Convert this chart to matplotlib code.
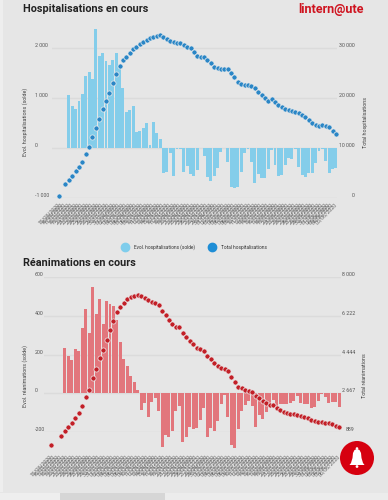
#!/usr/bin/env python

import matplotlib
matplotlib.use("Agg")
import matplotlib.pyplot as plt
from matplotlib.patches import Circle, Polygon, Rectangle
from matplotlib.transforms import ScaledTranslation
import numpy as np
import pandas as pd

plt.rcParams['font.family'] = ['Roboto', 'DejaVu Sans']

nan = float('nan')

# top chart
hosp_solde = [1053, 840, 773, 947, 1073, 1440, 1513, 1373, 2373, 1840, 1907, 1747, 1660, 1760, 1893, 1627,
              1193, 727, 760, 840, 313, 347, 393, 507, 60, 513, 293, 173, -507, -473, -107, -560, -10, -10,
              -473, -360, -520, -560, -440, -5, -160, -573, -660, -560, -407, -73, 0, -273, -773, -793, -773,
              -487, -107, -27, -280, -693, -520, -607, -607, -420, -40, -340, -553, -540, -340, -207, -220,
              -10, -373, -540, -587, -493, -507, -307, -53, -27, -253, -507, -413, -407]
hosp_total = [400, nan, 2740, 3600, 4460, 5340, 6200, 7200, 8800, 10260, 12200, 14060, 15800, 17740, 19400,
              21060, 22940, 24740, 26400, 27600, 28260, 29060, 29740, 30260, 30740, 31140, 31600, 31940,
              32140, 32400, 32600, 32140, 31740, 31460, 31260, 31060, 30940, 30600, 30260, 29940, 29260,
              28400, 28140, 28260, 27600, 26940, 26260, 25940, 25800, 25740, 25800, 25060, 24140, 23260,
              22800, 22600, 22600, 22460, 21940, 21260, 20600, 19940, 19460, 19740, 19260, 18600, 18140,
              17740, 17600, 17400, 17260, 16940, 16600, 16140, 15600, 15060, 14600, 14400, 14540, 14400,
              14140, 13460, 12800]

# bottom chart
rea_solde = [231, 190, 174, 228, 219, 336, 436, 310, 548, 410, 486, 357, 476, 460, 452, 379, 264, 176, 141,
             91, 60, 17, -86, -52, -121, -43, -26, -90, -276, -216, -224, -193, -90, -64, -253, -224, -172,
             -186, -180, -138, -74, -224, -181, -193, -141, -55, -9, -124, -267, -284, -184, -90, -60, -38,
             -64, -172, -112, -134, -95, -60, -34, -69, -55, -55, -55, -48, -38, -14, -52, -57, -57, -74,
             -69, -38, -3, -17, -52, -47, -47, -72]
rea_total = [306, nan, nan, 692, 935, 1132, 1316, 1531, 1761, 2082, 2509, 2816, 3367, 3779, 4270, 4637, 5096,
             5569, 5995, 6408, 6638, 6821, 6977, 7069, 7129, 7175, 7106, 7037, 6945, 6867, 6808, 6730, 6454,
             6257, 6028, 5844, 5720, 5693, 5445, 5234, 5078, 4913, 4729, 4683, 4605, 4390, 4224, 4032, 3917,
             3848, 3779, 3688, 3426, 3160, 2967, 2894, 2830, 2784, 2710, 2554, 2435, 2325, 2206, 2128, 2105,
             2004, 1898, 1820, 1761, 1729, 1701, 1669, 1609, 1563, 1518, 1453, 1380, 1334, 1334, 1316, 1288,
             1242, 1178, 1105]

hosp_left_ticks = [-1000, 0, 1000, 2000]
hosp_left_labels = ['-1 000', '0', '1 000', '2 000']
hosp_right_ticks = [0, 10000, 20000, 30000]
hosp_right_labels = ['0', '10 000', '20 000', '30 000']
rea_left_ticks = [-200, 0, 200, 400, 600]
rea_left_labels = ['-200', '0', '200', '400', '600']
rea_right_ticks = [889, 2667, 4444, 6222, 8000]
rea_right_labels = ['889', '2 667', '4 444', '6 222', '8 000']

W, H = 388, 500
BG = '#e6e6e6'
GRID = '#dbdbdb'
TICK = '#555555'


def make_axes(fig, left, right, top, bottom):
    return fig.add_axes([left / W, 1 - bottom / H, (right - left) / W, (bottom - top) / H])


def draw_chart(fig, box, xlim, solde, total, first_bar, ylim, y2lim, left, right, pads, bar_style, dot_color):
    ax = make_axes(fig, *box)
    ax.set_facecolor('none')
    ax.set_xlim(*xlim)
    ax.set_ylim(*ylim)
    ind = np.arange(len(total))
    ax.bar(ind[first_bar:], solde, 0.86, clip_on=False, linewidth=0, **bar_style)
    ax.set_yticks(left[0], left[1])
    ax.grid(axis='y', color=GRID, linewidth=1.0)
    ax.set_axisbelow(True)

    dates = pd.date_range('2020-03-15', periods=len(total)).strftime('%d/%m/%Y')
    ax.set_xticks(ind, dates, rotation=45, ha='right', va='center', rotation_mode='anchor')
    ax.tick_params(axis='x', length=0, pad=pads[2], labelsize=3.9, labelcolor='#666666')
    ax.tick_params(axis='y', length=0, pad=pads[0], labelsize=3.8, labelcolor=TICK)
    up = ScaledTranslation(0, 3 / 100, fig.dpi_scale_trans)
    for lab in ax.get_yticklabels():
        lab.set_ha('left')
        lab.set_transform(lab.get_transform() + up)

    ax2 = ax.twinx()
    ax2.set_ylim(*y2lim)
    ax2.plot(ind, total, linestyle='none', marker='o', ms=3.7, color=dot_color,
             mec='#ececec', mew=0.5, clip_on=False, zorder=5)
    ax2.set_yticks(right[0], right[1])
    ax2.tick_params(axis='y', length=0, pad=pads[1], labelsize=3.8, labelcolor=TICK)
    for lab in ax2.get_yticklabels():
        lab.set_ha('right')
        lab.set_transform(lab.get_transform() + up)

    for a in (ax, ax2):
        for s in a.spines.values():
            s.set_visible(False)
    return ax


fig = plt.figure(figsize=(W / 100, H / 100), dpi=100, facecolor=BG)

blue_bars = dict(color='#84cdea')
red_bars = dict(color='#e2767c')

ax1 = draw_chart(fig, (52, 337, 23, 198), (-1.98, 82.33), hosp_solde, hosp_total, 3,
                 (-1000, 2500), (0, 35000),
                 (hosp_left_ticks, hosp_left_labels), (hosp_right_ticks, hosp_right_labels),
                 (12.2, 13.0, 4), blue_bars, '#2a86c6')
ax3 = draw_chart(fig, (44, 341, 277, 432), (-2.02, 83.57), rea_solde, rea_total, 4,
                 (-200, 600), (889, 8000),
                 (rea_left_ticks, rea_left_labels), (rea_right_ticks, rea_right_labels),
                 (6.5, 10.0, 17), red_bars, '#c21f27')

# legend of the top chart
h1 = ax1.scatter([], [], s=36, color='#7fcdec', label='Evol. hospitalisations (solde)')
h2 = ax1.scatter([], [], s=36, color='#1f8ed6', label='Total hospitalisations')
ax1.legend(handles=[h1, h2], ncol=2, frameon=False, fontsize=3.4, labelcolor='#333333',
           loc='center', bbox_to_anchor=(194 / W, 1 - 247 / H), bbox_transform=fig.transFigure,
           handletextpad=0.9, columnspacing=2.6, borderpad=0)

# page level stuff: titles, axis names, logo, bell, screen strips
page = fig.add_axes([0, 0, 1, 1], zorder=10)
page.set_xlim(0, W)
page.set_ylim(H, 0)
page.axis('off')
page.patch.set_visible(False)

page.add_patch(Rectangle((0, 0), 3, 492, color='#eeeeee', lw=0))
page.add_patch(Rectangle((0, 493), 60, 7, color='#eeeeee', lw=0))
page.add_patch(Rectangle((60, 493), 105, 7, color='#d6d6d6', lw=0))
page.add_patch(Rectangle((165, 493), 223, 7, color='#ececec', lw=0))

page.text(23, 9.5, 'Hospitalisations en cours', fontsize=7.8, fontweight='bold', color='#222222', va='center')
page.text(23, 263, 'Réanimations en cours', fontsize=7.8, fontweight='bold', color='#222222', va='center')
page.text(298, 13.5, 'lintern@ute', fontsize=9.0, fontweight='bold', color='#cf1420', va='baseline')

page.text(25, 122, 'Evol. hospitalisations (solde)', fontsize=3.9, color='#444444', rotation=90, ha='center', va='center')
page.text(365, 122, 'Total hospitalisations', fontsize=3.9, color='#444444', rotation=90, ha='center', va='center')
page.text(25, 376, 'Evol. réanimations (solde)', fontsize=3.9, color='#444444', rotation=90, ha='center', va='center')
page.text(365, 376, 'Total réanimations', fontsize=3.9, color='#444444', rotation=90, ha='center', va='center')

# notification bell
page.add_patch(Circle((357, 458), 17, color='#d6000f', lw=0))
bell = [(357, 449), (359.5, 450), (361, 453), (361.5, 458), (363, 463), (364.5, 465), (349.5, 465),
        (351, 463), (352.5, 458), (353, 453), (354.5, 450)]
page.add_patch(Polygon(bell, closed=True, color='white', lw=0))
page.add_patch(Circle((357, 448.5), 1.3, color='white', lw=0))
page.add_patch(Circle((357, 466.5), 1.4, color='white', lw=0))

fig.savefig('out.png', dpi=100, facecolor=BG)
